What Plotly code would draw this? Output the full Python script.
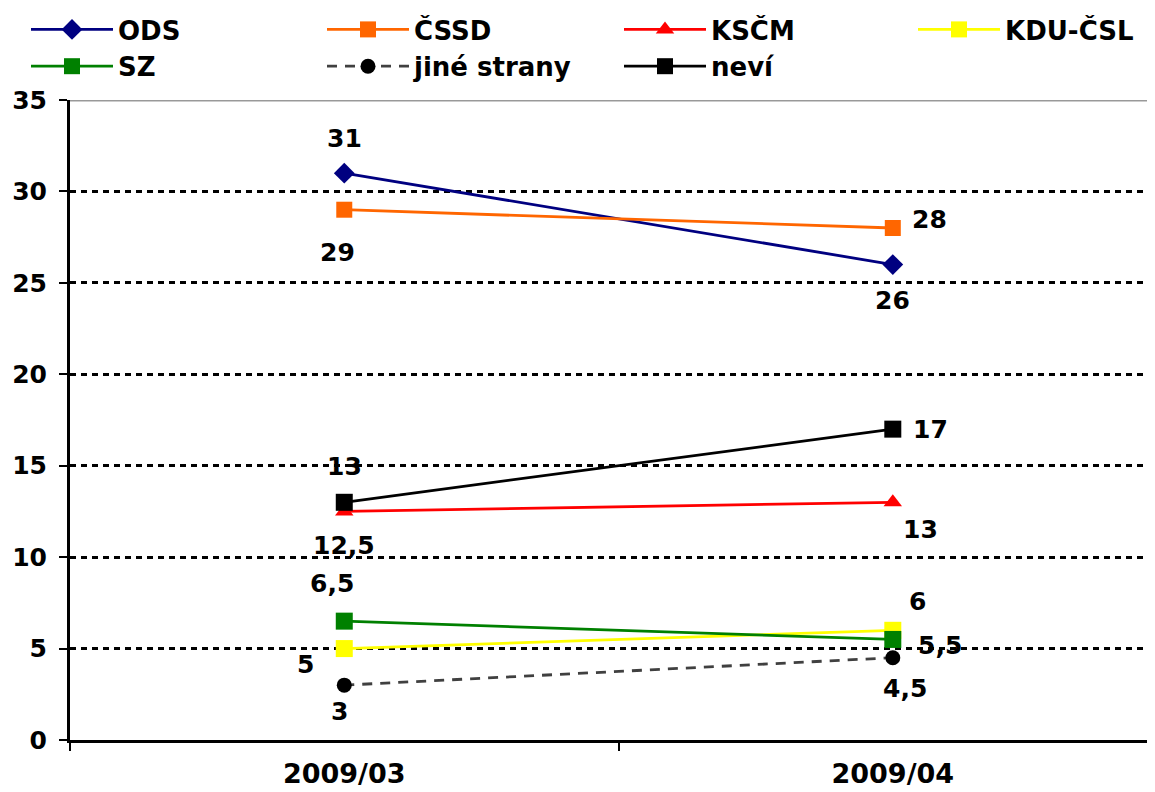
import plotly.graph_objects as go

categories = ["2009/03", "2009/04"]
series_names = ["ODS", "ČSSD", "KSČM", "KDU-ČSL", "SZ", "jiné strany", "neví"]
ods = [31, 26]
cssd = [29, 28]
kscm = [12.5, 13]
kdu = [5, 6]
sz = [6.5, 5.5]
jine = [3, 4.5]
nevi = [13, 17]
y_ticks = [0, 5, 10, 15, 20, 25, 30, 35]

values = [ods, cssd, kscm, kdu, sz, jine, nevi]
colors = ["#000080", "#FF6600", "#FF0000", "#FFFF00", "#008000", "#404040", "#000000"]
marker_colors = ["#000080", "#FF6600", "#FF0000", "#FFFF00", "#008000", "#000000", "#000000"]
symbols = ["diamond", "square", "triangle-up", "square", "square", "circle", "square"]
sizes = [16, 16, 16, 17, 17, 15, 17]
dashes = ["solid", "solid", "solid", "solid", "solid", "10px,8px", "solid"]
legend_ids = ["legend", "legend2", "legend3", "legend4", "legend", "legend2", "legend3"]
# label offsets in pixels (dx right, dy down) for each point
offsets = [
    [(0, -35), (0, 36)],
    [(-7, 43), (37, -9)],
    [(0, 34), (28, 27)],
    [(-39, 16), (25, -29)],
    [(-12, -38), (47, 6)],
    [(-5, 26), (12, 31)],
    [(0, -36), (38, 0)],
]


def fmt(v):
    return ("%g" % v).replace(".", ",")


x_pos = list(range(len(categories)))
FONT = "DejaVu Sans"
OFF = 8  # page body margin
W, H = 1155 - OFF, 792 - OFF
ML, MR, MT, MB = 70 - OFF, 0, 100 - OFF, 52
PW, PH = W - ML - MR, H - MT - MB

fig = go.Figure()
for name, vals, c, mc, sym, sz_, d, lg in zip(series_names, values, colors, marker_colors,
                                             symbols, sizes, dashes, legend_ids):
    fig.add_trace(go.Scatter(
        x=x_pos, y=vals, name=name, mode="lines+markers",
        line=dict(color=c, width=2.8, dash=d),
        marker=dict(color=mc, symbol=sym, size=sz_, line=dict(width=0)),
        legend=lg, cliponaxis=False,
    ))

for vals, offs in zip(values, offsets):
    for xi, v, (dx, dy) in zip(x_pos, vals, offs):
        fig.add_annotation(x=xi, y=v, text=fmt(v), showarrow=False,
                           xshift=dx, yshift=-dy,
                           font=dict(family=FONT, size=25, color="black", weight="bold"))

fig.add_shape(type="line", xref="paper", yref="y", x0=0, x1=1, y0=35, y1=35,
              line=dict(color="#999999", width=3))

legend_px = [26, 322, 619, 913]   # page pixels of each legend column
leg_top_px = 6
leg_common = dict(orientation="v", yref="paper", xref="paper",
                  xanchor="left", yanchor="top",
                  y=((OFF + MT + PH) - leg_top_px) / PH,
                  itemwidth=82, bgcolor="rgba(0,0,0,0)",
                  font=dict(family=FONT, size=26, color="black", weight="bold"),
                  tracegroupgap=0)

layout_legends = {}
for key, lx in zip(["legend", "legend2", "legend3", "legend4"], legend_px):
    layout_legends[key] = dict(leg_common, x=(lx - OFF - ML) / PW)

fig.update_layout(
    width=W, height=H,
    margin=dict(l=ML, r=MR, t=MT, b=MB, autoexpand=False),
    plot_bgcolor="white", paper_bgcolor="white",
    font=dict(family=FONT, size=25, color="black"),
    showlegend=True,
    xaxis=dict(range=[-0.5, 1.478], tickvals=x_pos, ticktext=categories,
               ticks="", showgrid=False, zeroline=False,
               showline=True, linecolor="black", linewidth=3,
               tickfont=dict(family=FONT, size=27, color="black", weight="bold"),
               ticklabelstandoff=8, automargin=False,
               minor=dict(ticks="outside", tick0=-0.5, dtick=1, ticklen=8,
                          tickcolor="black", tickwidth=2, showgrid=False)),
    yaxis=dict(range=[0, 35], tickvals=y_ticks, ticks="outside", ticklen=8,
               tickcolor="black", tickwidth=2, automargin=False,
               ticklabelstandoff=7,
               showline=True, linecolor="black", linewidth=3,
               showgrid=True, gridcolor="black", griddash="6px,5px", gridwidth=3,
               zeroline=False,
               tickfont=dict(family=FONT, size=25, color="black", weight="bold")),
    **layout_legends,
)

fig.write_html("out.html")
